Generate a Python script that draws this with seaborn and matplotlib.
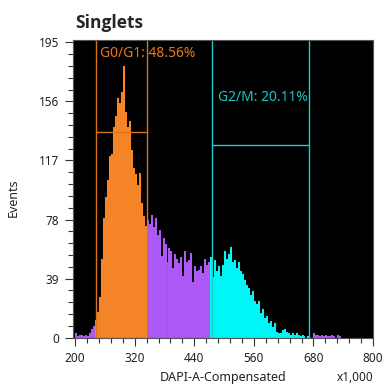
import numpy as np
import pandas as pd
import matplotlib
matplotlib.use("Agg")
import matplotlib.pyplot as plt
import seaborn as sns

# --- histogram counts, 4-unit bins (DAPI-A x1,000) ---
bin_width = 4
pre_start = 200
pre_counts = [3, 1, 2, 2, 1, 2, 1, 3, 6, 8]
g1_start = 240
g1_counts = [12, 17, 27, 52, 79, 93, 104, 120, 121, 139, 146, 158, 155,
             162, 179, 149, 139, 143, 124, 112, 108, 101, 109, 89, 80, 74]
s_start = 344
s_counts = [78, 75, 81, 73, 79, 68, 71, 54, 66, 62, 50, 59, 57, 46, 55, 52,
            49, 53, 41, 57, 50, 51, 56, 37, 47, 44, 45, 47, 43, 52, 48, 50]
g2_start = 472
g2_counts = [53, 40, 51, 44, 47, 41, 48, 57, 52, 55, 60, 50, 51, 46, 50, 44,
             42, 38, 35, 33, 28, 31, 24, 22, 24, 16, 19, 13, 14, 10, 11, 7,
             10, 4, 3, 3, 5, 6, 4, 3, 2, 3, 2, 3, 2, 1, 2, 1, 0, 1]
post_start = 672
post_counts = [0, 0, 3, 2, 2, 1, 2, 1, 2, 1, 1, 2, 1, 0, 2, 1]

# gates
g1_gate = (242, 345, 135.5)
g2_gate = (475, 671.5, 127)
g1_label = "G0/G1: 48.56%"
g2_label = "G2/M: 20.11%"

x_ticks = [200, 320, 440, 560, 680, 800]
y_ticks = [0, 39, 78, 117, 156, 195]

rows = []
for start, counts, pop in [(pre_start, pre_counts, "other"),
                           (g1_start, g1_counts, "g1"),
                           (s_start, s_counts, "other"),
                           (g2_start, g2_counts, "g2"),
                           (post_start, post_counts, "other")]:
    for i, c in enumerate(counts):
        rows.append({"dapi": start + i * bin_width + bin_width / 2, "count": c, "pop": pop})
df = pd.DataFrame(rows)

sns.set_style("white")
plt.rcParams["font.family"] = ["Noto Sans", "DejaVu Sans"]

fill = {"g1": "#FF8A28", "other": "#B55CFF", "g2": "#00FFFF"}
edge = {"g1": "#9A4E10", "other": "#6A2EA0", "g2": "#0A8C8C"}

fig = plt.figure(figsize=(3.83, 3.85), dpi=100)
ax = fig.add_axes([72.7 / 383, 1 - 337.7 / 385, 300.3 / 383, 298.2 / 385])
ax.set_facecolor("black")

for pop in ["other", "g1", "g2"]:
    sub = df[df["pop"] == pop]
    sns.histplot(data=sub, x="dapi", weights="count", binwidth=bin_width,
                 binrange=(200, 736), color=fill[pop], alpha=1,
                 edgecolor=edge[pop], linewidth=0.08, ax=ax)

# gate lines
for (lo, hi, lvl), col in [(g1_gate, "#D9731A"), (g2_gate, "#20CCCC")]:
    ax.axvline(lo, color=col, lw=1)
    ax.axvline(hi, color=col, lw=1)
    ax.plot([lo, hi], [lvl, lvl], color=col, lw=1)

ax.text(250, 185.5, g1_label, color="#E57A1E", fontsize=10, va="baseline")
ax.text(487, 156.4, g2_label, color="#19C8C8", fontsize=10, va="baseline")

ax.set_xlim(195, 800)
ax.set_ylim(0, 196.8)
ax.set_xticks(x_ticks)
ax.set_yticks(y_ticks)
ax.set_xticks(np.arange(200, 801, 24), minor=True)
ax.set_yticks(np.arange(0, 196, 7.8), minor=True)
ax.tick_params(axis="both", which="major", direction="out", length=6, width=0.8,
               color="#333333", labelsize=8.5, labelcolor="#222222", pad=4,
               bottom=True, left=True)
ax.tick_params(axis="both", which="minor", direction="out", length=3.5, width=0.8,
               color="#333333", bottom=True, left=True)
for s in ax.spines.values():
    s.set_color("#555555")
    s.set_linewidth(0.8)

ax.set_xlabel("DAPI-A-Compensated", fontsize=9, color="#222222")
ax.set_ylabel("Events", fontsize=9, color="#222222")
ax.xaxis.set_label_coords(0.5, -0.11)
ax.yaxis.set_label_coords(-0.175, 0.47)

fig.text(75 / 383, 1 - 28 / 385, "Singlets", fontsize=12.5, fontweight="bold",
         family=["Open Sans", "DejaVu Sans"], va="baseline", ha="left")
fig.text(374 / 383, 1 - 381 / 385, "x1,000", fontsize=8.5, color="#222222",
         va="baseline", ha="right")

fig.savefig("out.png", dpi=100)
